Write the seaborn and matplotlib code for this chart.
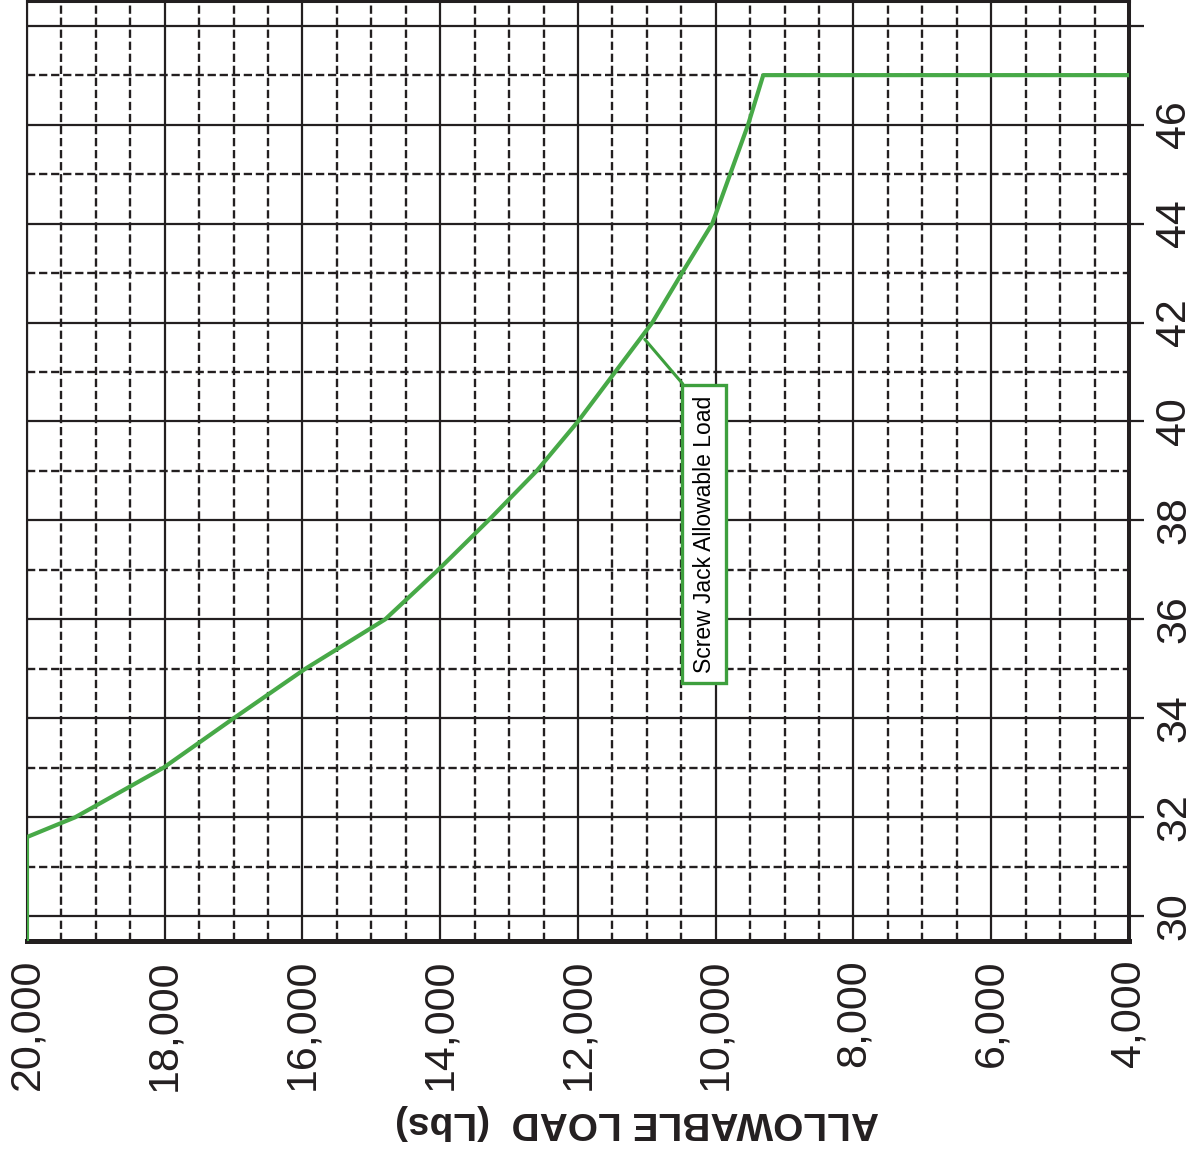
"""
Screw jack allowable load chart (scan orientation kept: load on the bottom,
height ticks on the right, axis title upside down).
"""

import matplotlib
matplotlib.use("Agg")
import matplotlib.pyplot as plt
from matplotlib.ticker import MultipleLocator, FuncFormatter
import pandas as pd
import seaborn as sns

# ---- data ----
load_lbs = [20000, 20000, 19300, 18020, 17000, 15960, 14800, 14030, 13300,
            12600, 12000, 11460, 10920, 10490, 10050, 9790, 9530, 9310, 4000]
height = [29.5, 31.6, 32, 33, 34, 35, 36, 37, 38,
          39, 40, 41, 42, 43, 44, 45, 46, 47, 47]

x_ticks = [20000, 18000, 16000, 14000, 12000, 10000, 8000, 6000, 4000]
y_ticks = [30, 32, 34, 36, 38, 40, 42, 44, 46, 48]
y_labelled = [30, 32, 34, 36, 38, 40, 42, 44, 46]

callout_text = "Screw Jack Allowable Load"
callout_point = (11030, 41.66)   # where the leader touches the curve
callout_box = (10166, 37.72)     # centre of the label box

GREEN = "#47a947"
BOX_GREEN = "#3d9f3d"
INK = "#231f20"

sns.set_style("white")
plt.rcParams["font.family"] = ["Liberation Sans", "DejaVu Sans"]

df = pd.DataFrame({"load": load_lbs, "height": height})

fig = plt.figure(figsize=(11.99, 11.53), dpi=100)
ax = fig.add_axes([0.0225, 0.1839, 0.9191, 0.8153])

sns.lineplot(data=df, x="load", y="height", sort=False, estimator=None,
             color=GREEN, linewidth=3.0, ax=ax, zorder=3)

ax.set_xlim(20000, 4000)
ax.set_ylim(29.5, 48.5)

# grid: solid on labelled values, dashed in between
ax.set_xticks(x_ticks)
ax.xaxis.set_minor_locator(MultipleLocator(500))
ax.set_yticks(y_ticks)
ax.yaxis.set_minor_locator(MultipleLocator(1))
ax.set_axisbelow(True)
ax.grid(which="major", color=INK, linestyle="-", linewidth=1.6)
ax.grid(which="minor", color=INK, linestyle=(0, (3.5, 1.6)), linewidth=1.7)

ax.xaxis.set_major_formatter(FuncFormatter(lambda v, p: f"{int(v):,}"))
ax.yaxis.set_major_formatter(
    FuncFormatter(lambda v, p: f"{int(v)}" if int(v) in y_labelled else ""))

ax.yaxis.tick_right()
ax.tick_params(axis="x", which="major", length=0, pad=13,
               labelsize=31, labelrotation=90, colors=INK)
ax.tick_params(axis="y", which="major", right=True, left=False, length=11,
               width=1.6, pad=7, labelsize=31, labelrotation=90, colors=INK)
ax.tick_params(which="minor", length=0)
for lab in ax.get_yticklabels():
    lab.set_verticalalignment("center")

for side, lw in {"left": 1.5, "top": 2.2, "right": 2.9, "bottom": 3.6}.items():
    ax.spines[side].set_visible(True)
    ax.spines[side].set_color(INK)
    ax.spines[side].set_linewidth(lw)

ax.set_ylabel("")
ax.set_xlabel("ALLOWABLE LOAD  (Lbs)", fontsize=28, fontweight="bold",
              rotation=180, color=INK, va="center", ha="center")
ax.xaxis.set_label_coords(0.5535, -0.193)

ax.annotate(callout_text, xy=callout_point, xytext=callout_box,
            textcoords="data", rotation=90, ha="center", va="center",
            fontsize=16.5, color="black", zorder=5,
            bbox=dict(boxstyle="square,pad=0.46", fc="white",
                      ec=BOX_GREEN, lw=2.4),
            arrowprops=dict(arrowstyle="-", color=BOX_GREEN, lw=2.2,
                            relpos=(0, 1), shrinkA=0, shrinkB=0))

fig.savefig("out.png", dpi=100)
